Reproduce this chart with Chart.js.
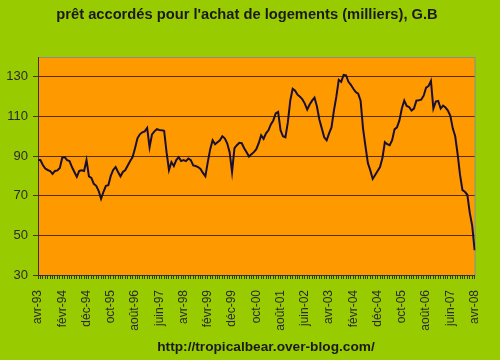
<!DOCTYPE html>
<html>
<head>
<meta charset="utf-8">
<script src="https://cdn.jsdelivr.net/npm/chart.js@4.4.1/dist/chart.umd.min.js"></script>
<style>
    html, body { margin: 0; padding: 0; background: #99cc00; }
    #wrap { width: 500px; height: 360px; }
</style>
</head>
<body>
<div id="wrap"><canvas id="chart" width="500" height="360"></canvas></div>
<script>
// prêts accordés pour l'achat de logements (milliers), mensuel avr-93 -> avr-08
const MONTHS = ['janv', 'févr', 'mars', 'avr', 'mai', 'juin', 'juil', 'août', 'sept', 'oct', 'nov', 'déc'];
const START_YEAR = 1993;
const START_MONTH = 3; // avr
const LABEL_EVERY = 10;

const loans = [
    88, 88, 85.5, 83.7, 83, 82.5, 81, 82.5, 82.8, 84,
    89.2, 89.5, 88, 87.5, 84.5, 82, 79.5, 82.5, 82.8, 82.5,
    88, 79.8, 79, 76, 75, 72.5, 68.5, 72, 75, 75.3,
    80, 83, 84.5, 82, 79.8, 82, 83, 85.3, 87.5, 89.5,
    94, 99, 101, 102, 102.5, 104.2, 94.5, 101, 102.5, 103.6,
    103.2, 103, 102.8, 92, 83, 87, 85, 88, 89.5, 87.5,
    88, 87.5, 88.8, 88, 85.3, 85, 84.5, 83.5, 81.5, 79.8,
    87, 93.5, 98, 96, 97, 98, 100, 99, 96.5, 92,
    82, 94, 95.5, 96.7, 96.5, 94, 92, 89.8, 91, 92,
    93.5, 96.5, 100.5, 98.7, 101.5, 103, 106, 108, 111.5, 112.3,
    103, 100, 99.5, 107, 118, 124, 123, 121, 120, 118.7,
    116.5, 113.5, 116, 118, 119.5, 115, 108.5, 104, 99.5, 98,
    101.5, 104.5, 113, 120, 128.5, 127.5, 131, 130.8, 127.5, 126,
    124, 122.3, 121.5, 118, 104, 95, 86.5, 82.8, 78.5, 80.5,
    82.5, 84.5, 89, 97, 96, 95.5, 98, 103.5, 104.5, 108,
    114, 118, 115.3, 114.8, 113, 114, 118, 118.2, 118.5, 120.5,
    124.5, 125.3, 128, 114, 117.5, 117.8, 114, 115.5, 114.5, 113,
    110.3, 104, 100, 91, 80.5, 72.8, 72, 70.5, 61.5, 55,
    42.5
];

const yTicks = [30, 50, 70, 90, 110, 130];
const Y_MIN = 30;
const Y_MAX = 140;

const categories = loans.map((_, i) => {
    const m = START_MONTH + i;
    const yy = (START_YEAR + Math.floor(m / 12)) % 100;
    return MONTHS[m % 12] + '-' + String(yy).padStart(2, '0');
});

const FONT = "'Liberation Sans', Arial, sans-serif";

// fond vert + zone de tracé orange
const plotBg = {
    id: 'plotBg',
    beforeDraw(chart) {
        const { ctx, chartArea: a } = chart;
        ctx.save();
        ctx.fillStyle = '#99cc00';
        ctx.fillRect(0, 0, chart.width, chart.height);
        ctx.fillStyle = '#ff9900';
        ctx.fillRect(a.left, a.top, a.right - a.left, a.bottom - a.top);
        ctx.strokeStyle = '#8c8c8c';
        ctx.lineWidth = 1;
        ctx.strokeRect(a.left + 0.5, a.top + 0.5, a.right - a.left, a.bottom - a.top);
        ctx.restore();
    }
};

// texte du bas
const footer = {
    id: 'footer',
    afterDraw(chart) {
        const ctx = chart.ctx;
        ctx.save();
        ctx.font = 'bold 13.7px ' + FONT;
        ctx.fillStyle = '#1a1a1a';
        ctx.textAlign = 'center';
        ctx.textBaseline = 'middle';
        ctx.fillText('http://tropicalbear.over-blog.com/', 266, 347);
        ctx.restore();
    }
};

new Chart(document.getElementById('chart'), {
    type: 'line',
    data: {
        labels: categories,
        datasets: [{
            data: loans,
            borderColor: '#1a0f33',
            borderWidth: 2,
            pointRadius: 0,
            tension: 0,
            fill: false
        }]
    },
    options: {
        responsive: false,
        animation: false,
        devicePixelRatio: 1,
        layout: { padding: { top: 0, right: 6, bottom: 25, left: 0 } },
        plugins: {
            legend: { display: false },
            tooltip: { enabled: false },
            title: {
                display: true,
                text: "prêt accordés pour l'achat de logements (milliers), G.B",
                color: '#1a1a1a',
                font: { family: FONT, size: 14.7, weight: 'bold' },
                padding: { top: 6.5, bottom: 32.9 }
            }
        },
        scales: {
            x: {
                grid: {
                    drawOnChartArea: false,
                    drawTicks: true,
                    tickLength: 4,
                    color: '#3a3a1a'
                },
                border: { color: '#333', width: 1 },
                ticks: {
                    autoSkip: false,
                    minRotation: 90,
                    maxRotation: 90,
                    padding: 11,
                    color: '#2a2a2a',
                    font: { family: FONT, size: 12 },
                    callback: (v, i) => (i % LABEL_EVERY === 0 ? categories[i] : '')
                },
                afterFit: s => { s.height = 60; }
            },
            y: {
                min: Y_MIN,
                max: Y_MAX,
                afterBuildTicks: s => { s.ticks = yTicks.map(v => ({ value: v })); },
                grid: {
                    color: '#5a2e00',
                    lineWidth: 1,
                    tickLength: 5
                },
                border: { color: '#333', width: 1 },
                ticks: {
                    padding: 5,
                    color: '#2a2a2a',
                    font: { family: FONT, size: 13 }
                },
                afterFit: s => { s.width = 38; }
            }
        }
    },
    plugins: [plotBg, footer]
});
</script>
</body>
</html>
